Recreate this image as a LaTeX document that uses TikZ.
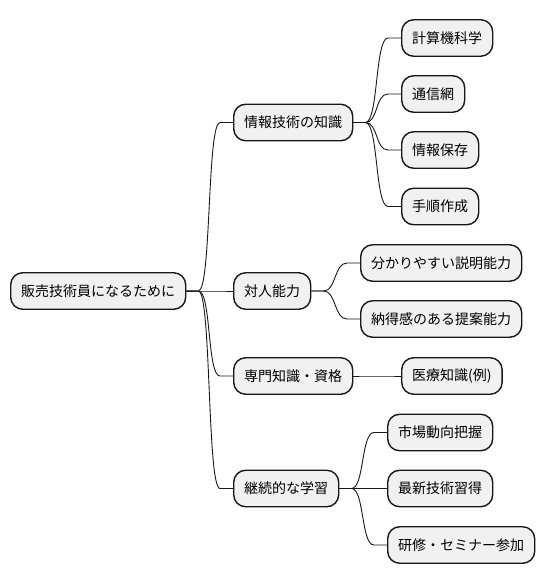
\documentclass[tikz,border=0pt]{standalone}
\usepackage{fontspec}
\newfontfamily\jp{Noto Sans CJK JP}
\definecolor{boxfill}{HTML}{F1F1F1}
\definecolor{boxline}{HTML}{181818}
\tikzset{
  mbox/.style={draw=boxline, fill=boxfill, line width=1.4pt, rounded corners=12pt,
    minimum height=36.5pt, inner xsep=10.5pt, inner ysep=0pt, anchor=west,
    font=\jp\fontsize{14pt}{16pt}\selectfont, text=black},
  branch/.style={to path={-- ++(12,0) .. controls +(13,0) and ([xshift=-26pt]\tikztotarget.west) .. ([xshift=-13pt]\tikztotarget.west) -- (\tikztotarget.west)}},
  conn/.style={draw=boxline, line width=0.9pt}
}
\begin{document}
\begin{tikzpicture}[x=1pt,y=-1pt]
\useasboundingbox (0,0) rectangle (544,583);
\node[mbox] (root) at (10,291) {販売技術員になるために};
\node[mbox] (a) at (233,122.5) {情報技術の知識};
\node[mbox] (b) at (233,291) {対人能力};
\node[mbox] (c) at (233,376) {専門知識・資格};
\node[mbox] (d) at (233,488.5) {継続的な学習};
\node[mbox] (a1) at (401,38) {計算機科学};
\node[mbox] (a2) at (401,94) {通信網};
\node[mbox] (a3) at (401,150) {情報保存};
\node[mbox] (a4) at (401,206.5) {手順作成};
\node[mbox] (b1) at (360,263) {分かりやすい説明能力};
\node[mbox] (b2) at (360,319) {納得感のある提案能力};
\node[mbox] (c1) at (401,376) {医療知識(例)};
\node[mbox] (d1) at (387,432.5) {市場動向把握};
\node[mbox] (d2) at (387,488.5) {最新技術習得};
\node[mbox] (d3) at (387,545) {研修・セミナー参加};
\foreach \p/\c in {root/a,root/b,root/c,root/d,a/a1,a/a2,a/a3,a/a4,b/b1,b/b2,c/c1,d/d1,d/d2,d/d3}
  \draw[conn] (\p.east) to[branch] (\c);
\end{tikzpicture}
\end{document}
